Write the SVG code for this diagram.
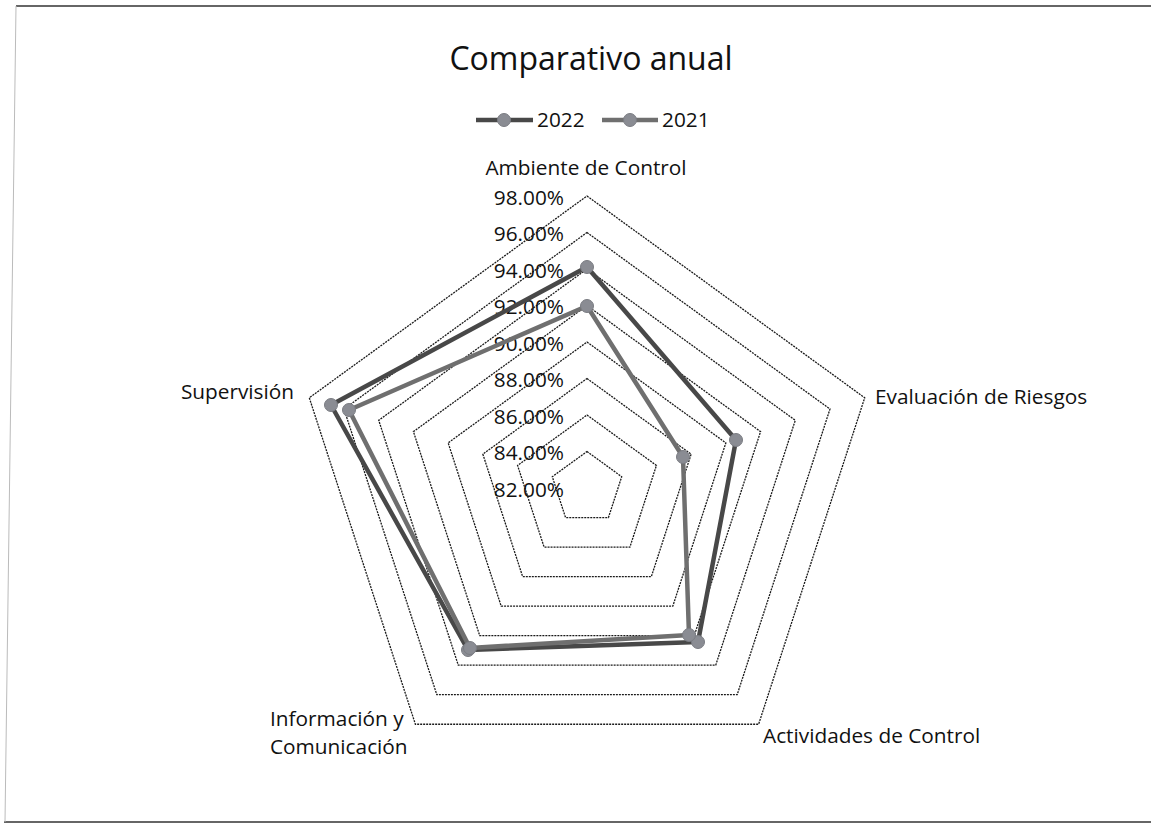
<svg xmlns="http://www.w3.org/2000/svg" width="1151" height="829" viewBox="0 0 1151 829">
<style>
text{font-family:"Open Sans","Liberation Sans",sans-serif;fill:#111}
.t{font-size:32px}
.l{font-size:20.8px}
.ring{fill:none;stroke:#1a1a1a;stroke-width:1.3;stroke-dasharray:2 1}
.s22{fill:none;stroke:#484848;stroke-width:4.5;stroke-linejoin:round}
.s21{fill:none;stroke:#6f6f6f;stroke-width:4.5;stroke-linejoin:round}
.mk{fill:#8a8c93;stroke:#7a7c82;stroke-width:1}
.frame{stroke:#666;stroke-width:2}
</style>
<rect width="1151" height="829" fill="#fff"/>
<g id="frame">
<line class="frame" x1="16" y1="6" x2="1151" y2="6"/>
<line class="frame" x1="4" y1="822" x2="1151" y2="822"/>
<line x1="16" y1="6" x2="5" y2="822" stroke="#bbb" stroke-width="1"/>
</g>
<g id="title"><text class="t" x="591" y="70" text-anchor="middle">Comparativo anual</text></g>
<g id="legend">
<line class="s22" x1="476" y1="120" x2="533" y2="120"/>
<circle class="mk" cx="504" cy="120" r="6.5"/>
<text class="l" x="537" y="127">2022</text>
<line class="s21" x1="602" y1="120" x2="658" y2="120"/>
<circle class="mk" cx="630" cy="120" r="6.5"/>
<text class="l" x="662" y="127">2021</text>
</g>
<g id="grid">
<polygon class="ring" points="587,451.5 621.71,476.72 608.45,517.53 565.55,517.53 552.29,476.72"/>
<polygon class="ring" points="587,415 656.43,465.44 629.91,547.06 544.09,547.06 517.57,465.44"/>
<polygon class="ring" points="587,378.5 691.14,454.16 651.36,576.59 522.64,576.59 482.86,454.16"/>
<polygon class="ring" points="587,342 725.85,442.88 672.82,606.12 501.18,606.12 448.15,442.88"/>
<polygon class="ring" points="587,305.5 760.57,431.6 694.27,635.65 479.73,635.65 413.43,431.6"/>
<polygon class="ring" points="587,269 795.28,420.32 715.73,665.18 458.27,665.18 378.72,420.32"/>
<polygon class="ring" points="587,232.5 829.99,409.05 737.18,694.7 436.82,694.7 344.01,409.05"/>
<polygon class="ring" points="587,196 864.71,397.77 758.63,724.23 415.37,724.23 309.29,397.77"/>
</g>
<g id="axis-labels" class="l">
<text x="564" y="205" text-anchor="end">98.00%</text>
<text x="564" y="241" text-anchor="end">96.00%</text>
<text x="564" y="278" text-anchor="end">94.00%</text>
<text x="564" y="314" text-anchor="end">92.00%</text>
<text x="564" y="351" text-anchor="end">90.00%</text>
<text x="564" y="387" text-anchor="end">88.00%</text>
<text x="564" y="424" text-anchor="end">86.00%</text>
<text x="564" y="460" text-anchor="end">84.00%</text>
<text x="564" y="497" text-anchor="end">82.00%</text>
</g>
<g id="category-labels" class="l">
<text x="586" y="175" text-anchor="middle">Ambiente de Control</text>
<text x="875" y="404">Evaluación de Riesgos</text>
<text x="763" y="743">Actividades de Control</text>
<text x="270" y="726">Información y</text>
<text x="270" y="754">Comunicación</text>
<text x="294" y="399" text-anchor="end">Supervisión</text>
</g>
<g id="connectors">
<polygon id="series-2022" class="s22" points="587,267 736,440 698,642 468,650 331,405"/>
<polygon id="series-2021" class="s21" points="587,306 683,457 689,635 470,648 349,410"/>
</g>
<g id="markers-2022">
<circle class="mk" cx="587" cy="267" r="6.5"/>
<circle class="mk" cx="736" cy="440" r="6.5"/>
<circle class="mk" cx="698" cy="642" r="6.5"/>
<circle class="mk" cx="468" cy="650" r="6.5"/>
<circle class="mk" cx="331" cy="405" r="6.5"/>
</g>
<g id="markers-2021">
<circle class="mk" cx="587" cy="306" r="6.5"/>
<circle class="mk" cx="683" cy="457" r="6.5"/>
<circle class="mk" cx="689" cy="635" r="6.5"/>
<circle class="mk" cx="470" cy="648" r="6.5"/>
<circle class="mk" cx="349" cy="410" r="6.5"/>
</g>
</svg>
